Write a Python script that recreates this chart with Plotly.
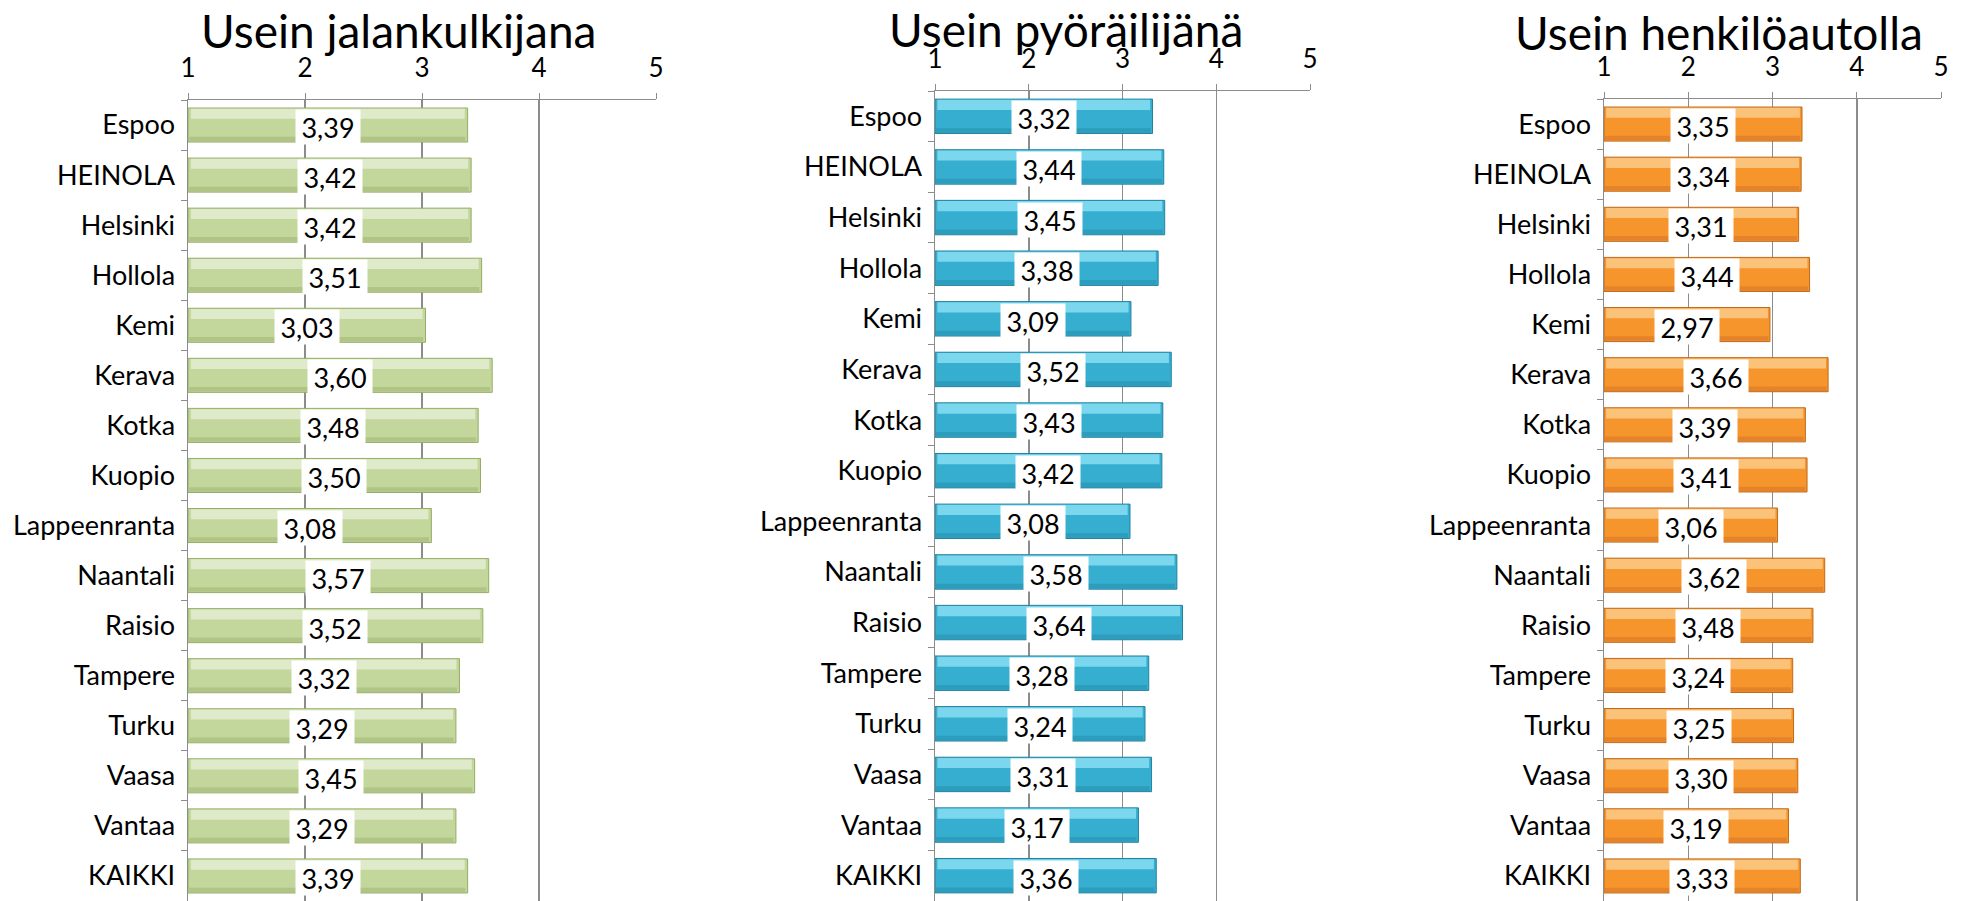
import plotly.graph_objects as go

categories = ["Espoo", "HEINOLA", "Helsinki", "Hollola", "Kemi", "Kerava", "Kotka", "Kuopio",
              "Lappeenranta", "Naantali", "Raisio", "Tampere", "Turku", "Vaasa", "Vantaa", "KAIKKI"]
titles = ["Usein jalankulkijana", "Usein pyöräilijänä", "Usein henkilöautolla"]
walk = [3.39, 3.42, 3.42, 3.51, 3.03, 3.60, 3.48, 3.50, 3.08, 3.57, 3.52, 3.32, 3.29, 3.45, 3.29, 3.39]
bike = [3.32, 3.44, 3.45, 3.38, 3.09, 3.52, 3.43, 3.42, 3.08, 3.58, 3.64, 3.28, 3.24, 3.31, 3.17, 3.36]
car = [3.35, 3.34, 3.31, 3.44, 2.97, 3.66, 3.39, 3.41, 3.06, 3.62, 3.48, 3.24, 3.25, 3.30, 3.19, 3.33]
x_ticks = [1, 2, 3, 4, 5]

series = [walk, bike, car]
W, H = 1961, 901
# layout (pixels)
x_px = [(188, 656), (935, 1310), (1604, 1941)]
top_px = [100, 91, 99]
title_pos = [(398, 31, "middle", 0), (1066, 0, "top", 0), (1719, 33, "middle", 0)]
colors = [
    dict(mid="#c3d69b", light="#dfeaca", shade="#afc485", dark="#95ad66"),
    dict(mid="#36aed0", light="#7ad7ee", shade="#2c9dbd", dark="#24829e"),
    dict(mid="#f7952d", light="#fbc27a", shade="#e4832a", dark="#bf6a1d"),
]
FONT = "Lato"
GRID = "#8c8c8c"

fig = go.Figure()
annotations = []
for i, vals in enumerate(series):
    xa = "x" if i == 0 else f"x{i+1}"
    ya = "y" if i == 0 else f"y{i+1}"
    c = colors[i]
    # main bar
    fig.add_trace(go.Bar(
        y=categories, x=[v - 1 for v in vals], base=1, orientation="h",
        width=0.68, marker=dict(color=c["mid"], line=dict(color=c["dark"], width=1)),
        xaxis=xa, yaxis=ya, showlegend=False, hoverinfo="skip"))
    # highlight strip (bevel top)
    fig.add_trace(go.Bar(
        y=categories, x=[v - 1.05 for v in vals], base=1.025, orientation="h",
        width=0.2, offset=-0.325, marker=dict(color=c["light"], line=dict(width=0)),
        xaxis=xa, yaxis=ya, showlegend=False, hoverinfo="skip"))
    # shade strip (bevel bottom)
    fig.add_trace(go.Bar(
        y=categories, x=[v - 1.03 for v in vals], base=1.01, orientation="h",
        width=0.09, offset=0.235, marker=dict(color=c["shade"], line=dict(width=0)),
        xaxis=xa, yaxis=ya, showlegend=False, hoverinfo="skip"))
    for cat, v in zip(categories, vals):
        annotations.append(dict(
            x=(1 + v) / 2, y=cat, xref=xa, yref=ya, text=f"{v:.2f}".replace(".", ","),
            showarrow=False, bgcolor="white", width=64, height=34, borderpad=0,
            yshift=-2, font=dict(family=FONT, size=27, color="#000000")))
    tx, ty, yanc, ysh = title_pos[i]
    annotations.append(dict(
        x=tx / W, y=1 - ty / H, xref="paper", yref="paper", text=titles[i],
        showarrow=False, xanchor="center", yanchor=yanc, yshift=ysh,
        font=dict(family=FONT, size=46, color="#000000")))

    x0, x1 = x_px[i]
    xdom = [x0 / W, x1 / W]
    ydom = [0, 1 - top_px[i] / H]
    fig.layout[("xaxis" if i == 0 else f"xaxis{i+1}")] = dict(
        domain=xdom, anchor=ya, side="top", range=[1, 5], tickvals=x_ticks,
        showgrid=True, gridcolor=GRID, gridwidth=1.5, zeroline=False,
        showline=True, linecolor=GRID, linewidth=1.5, ticks="outside", ticklen=6,
        tickcolor=GRID, ticklabelstandoff=5, automargin=False,
        tickfont=dict(family=FONT, size=26, color="#000000"), fixedrange=True)
    fig.layout[("yaxis" if i == 0 else f"yaxis{i+1}")] = dict(
        domain=ydom, anchor=xa, type="category", categoryorder="array",
        categoryarray=categories, range=[15.5, -0.5], showgrid=False,
        showline=True, linecolor=GRID, linewidth=1.5, ticks="outside", ticklen=6,
        tickcolor=GRID, tickson="boundaries", ticklabelstandoff=6, automargin=False,
        tickfont=dict(family=FONT, size=27, color="#000000"), fixedrange=True)

fig.update_layout(
    width=W, height=H, barmode="overlay",
    margin=dict(l=0, r=0, t=0, b=0), paper_bgcolor="white", plot_bgcolor="white",
    annotations=annotations, showlegend=False)
fig.write_html("out.html", config={"displayModeBar": False, "staticPlot": True},
               post_script="document.body.style.margin='0';document.body.style.overflow='hidden';")
